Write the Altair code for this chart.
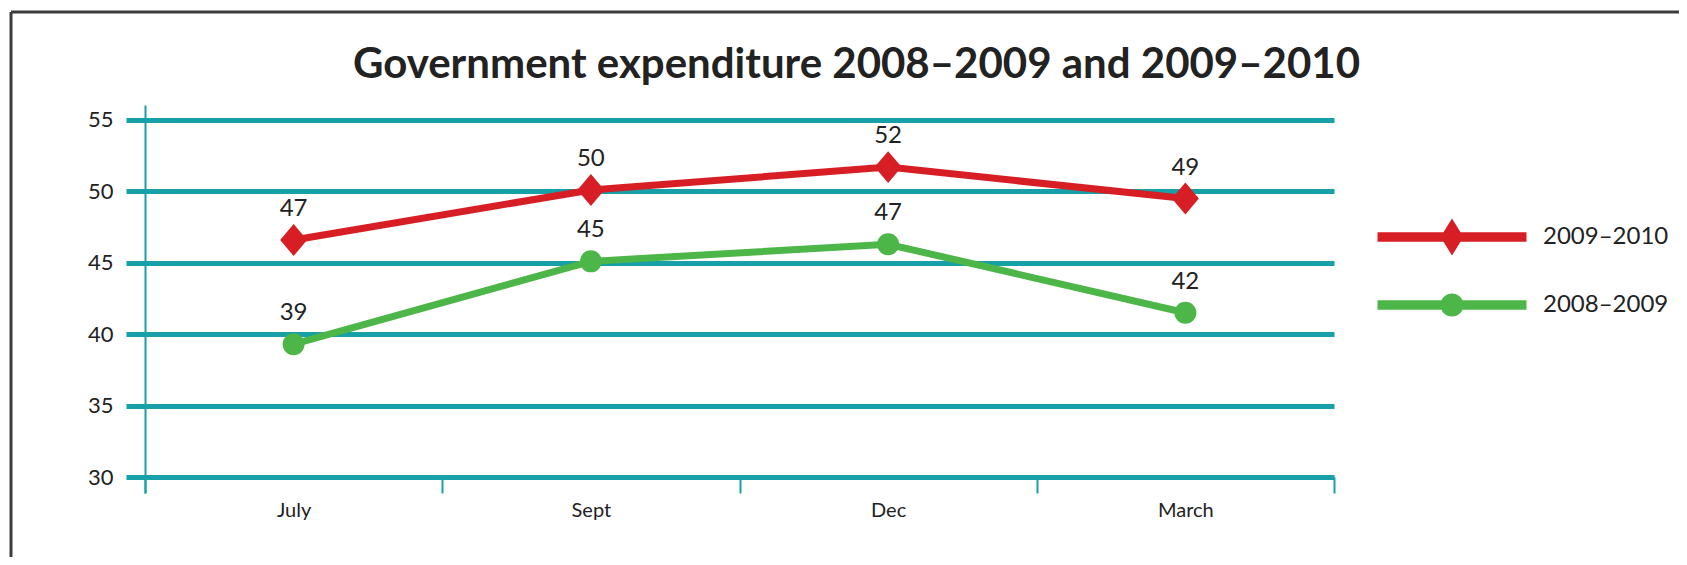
import altair as alt
import pandas as pd

# ---------------- data ----------------
months = ["July", "Sept", "Dec", "March"]
series_names = ["2009–2010", "2008–2009"]
values_0910 = [46.6, 50.1, 51.7, 49.5]
values_0809 = [39.3, 45.1, 46.3, 41.5]
labels_0910 = ["47", "50", "52", "49"]
labels_0809 = ["39", "45", "47", "42"]
y_ticks = [30, 35, 40, 45, 50, 55]
title_text = "Government expenditure 2008–2009 and 2009–2010"

rows = []
for s, vals, labs in [(series_names[0], values_0910, labels_0910),
                      (series_names[1], values_0809, labels_0809)]:
    for m, v, l in zip(months, vals, labs):
        rows.append({"month": m, "value": v, "label": l, "series": s})
df = pd.DataFrame(rows)

# ---------------- styles ----------------
RED = "#d81e25"
GREEN = "#4cb648"
TEAL = "#17a0a7"
TXT = "#222222"
FONT = "Lato"

DIAMOND = "M0,-1.18 L1,0 L0,1.18 L-1,0 Z"
LEG_DIAMOND = ("M-3.725,-0.24 L3.725,-0.24 L3.725,0.24 L-3.725,0.24 Z "
               "M0,-0.925 L0.575,0 L0,0.925 L-0.575,0 Z")
LEG_CIRCLE = ("M-3.725,-0.24 L3.725,-0.24 L3.725,0.24 L-3.725,0.24 Z "
              "M0.58,0 A0.58,0.58 0 1,1 -0.58,0 A0.58,0.58 0 1,1 0.58,0 Z")

x = alt.X(
    "month:N", sort=months, bandPosition=0.5,
    scale=alt.Scale(type="band", paddingInner=0, paddingOuter=0),
    axis=alt.Axis(title=None, domain=False, tickBand="extent", tickColor=TEAL,
                  tickWidth=2, tickSize=16, offset=-16, labelFont=FONT,
                  labelFontSize=20, labelColor=TXT, labelPadding=7, labelAngle=0),
)
y = alt.Y(
    "value:Q",
    scale=alt.Scale(domain=[28.88, 56.05], nice=False, zero=False),
    axis=alt.Axis(title=None, values=y_ticks, grid=True, gridColor=TEAL, gridWidth=5,
                  gridOpacity=1, domainColor=TEAL, domainWidth=2, tickColor=TEAL,
                  tickWidth=5, tickSize=19, labelFont=FONT, labelFontSize=22,
                  labelColor=TXT, labelPadding=13),
)

base = alt.Chart(df)

lines = base.mark_line(strokeWidth=7).encode(
    x=x, y=y,
    stroke=alt.Stroke("series:N", scale=alt.Scale(domain=series_names, range=[RED, GREEN]),
                      legend=None),
)

red_pts = base.transform_filter(alt.datum.series == series_names[0]).mark_point(
    filled=True, shape=DIAMOND, size=729, color=RED, opacity=1, strokeWidth=0
).encode(x=x, y=y)

green_pts = base.transform_filter(alt.datum.series == series_names[1]).mark_point(
    filled=True, shape="circle", size=484, color=GREEN, opacity=1, strokeWidth=0
).encode(x=x, y=y)

texts = base.mark_text(dy=-31, fontSize=24, font=FONT, color=TXT).encode(
    x=x, y=y, text="label:N"
)


def legend_for(symbol, ypos):
    return alt.Legend(title=None, orient="none", legendX=1287, legendY=ypos,
                      symbolType=symbol, symbolSize=1600, symbolOpacity=1,
                      symbolStrokeWidth=0, labelFont=FONT, labelFontSize=24,
                      labelColor=TXT, labelOffset=71, padding=0)


# legend-only layers: they draw no rows; each legend's entry comes from its scale domain
legend_red = base.transform_filter("false").mark_point(
    filled=True, shape=LEG_DIAMOND
).encode(
    x=x, y=y,
    fill=alt.Fill("series:N", scale=alt.Scale(domain=[series_names[0]], range=[RED]),
                  legend=legend_for(LEG_DIAMOND, 112)),
)
legend_green = base.transform_filter("false").mark_point(
    filled=True, shape=LEG_CIRCLE
).encode(
    x=x, y=y,
    color=alt.Color("series:N", scale=alt.Scale(domain=[series_names[1]], range=[GREEN]),
                    legend=legend_for(LEG_CIRCLE, 180)),
)

frame_df = pd.DataFrame({"k": [0]})
top_rule = alt.Chart(frame_df).mark_rule(color="#3c3c3c", strokeWidth=3).encode(
    x=alt.value(-134), x2=alt.value(1600), y=alt.value(-93)
)
left_rule = alt.Chart(frame_df).mark_rule(color="#3c3c3c", strokeWidth=3).encode(
    x=alt.value(-134), y=alt.value(-93), y2=alt.value(480)
)

chart = alt.layer(
    top_rule, left_rule, lines, red_pts, green_pts, texts, legend_red, legend_green
).properties(
    width=1189, height=388,
    title=alt.Title(title_text, font=FONT, fontSize=42, fontWeight="bold", color=TXT,
                    anchor="middle", frame="group", dx=117, offset=-109,
                    baseline="alphabetic"),
    autosize=alt.AutoSizeParams(type="none"),
    padding={"left": 137, "top": 97, "right": 345, "bottom": 64},
    background="white",
).configure_view(stroke="transparent")

chart.save("out.html", embed_options={"renderer": "svg", "actions": False})
